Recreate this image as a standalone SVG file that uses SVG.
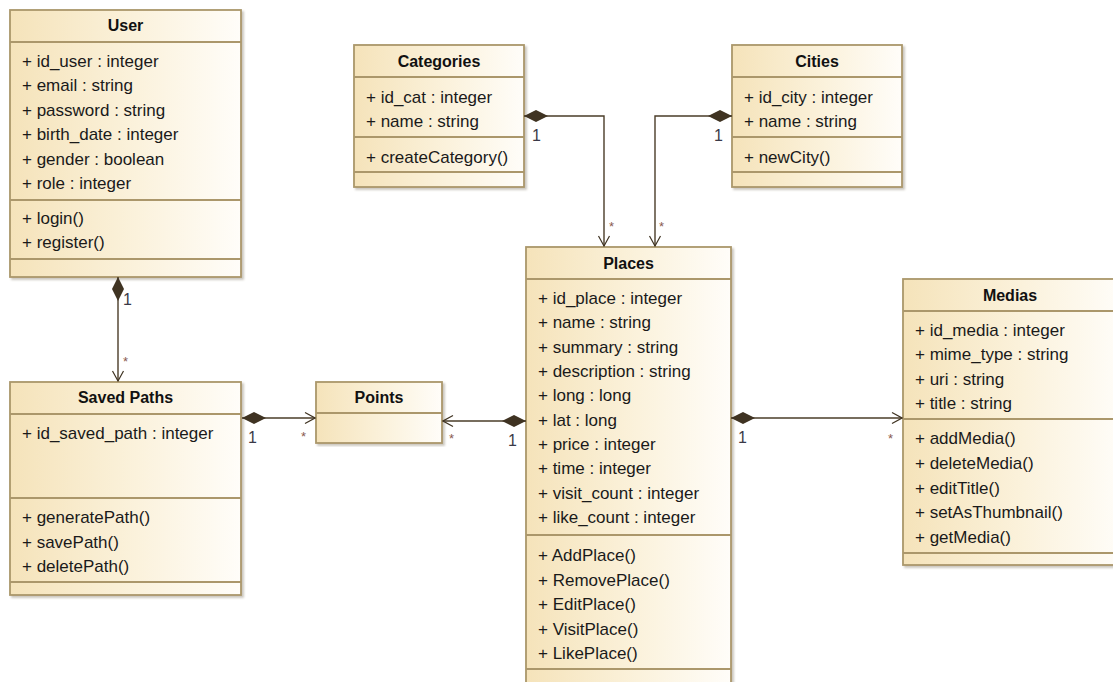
<svg xmlns="http://www.w3.org/2000/svg" width="1113" height="682" viewBox="0 0 1113 682">
<defs>
<linearGradient id="bg" x1="0" y1="0" x2="1" y2="0">
<stop offset="0" stop-color="#f5e3ba"/>
<stop offset="0.55" stop-color="#fbf2dc"/>
<stop offset="1" stop-color="#fffdf9"/>
</linearGradient>
<filter id="sh" x="-5%" y="-5%" width="110%" height="110%">
<feDropShadow dx="2" dy="2" stdDeviation="1" flood-color="#8a8070" flood-opacity="0.45"/>
</filter>
<marker id="dia" viewBox="0 -7 25 14" markerWidth="25" markerHeight="14" refX="0" refY="0" orient="auto" markerUnits="userSpaceOnUse">
<path d="M0,0 L12,-6 L24,0 L12,6 Z" fill="#3f3322"/>
</marker>
<marker id="arr" viewBox="-11 -7 12 14" markerWidth="12" markerHeight="14" refX="0" refY="0" orient="auto" markerUnits="userSpaceOnUse">
<path d="M-10,-5.5 L0,0 L-10,5.5" fill="none" stroke="#3f3322" stroke-width="1.2"/>
</marker>
</defs>
<style>
.box{fill:url(#bg);stroke:#ab976b;stroke-width:1.8;filter:url(#sh)}
.sep{stroke:#ab976b;stroke-width:1.8}
.t{font-family:"Liberation Sans",Arial,sans-serif;font-weight:bold;font-size:16px;fill:#111;text-anchor:middle}
.a{font-family:"Liberation Sans",Arial,sans-serif;font-size:17px;fill:#1a1a1a}
.c{fill:none;stroke:#4a3c28;stroke-width:1.4}
.one{font-family:"Liberation Sans",Arial,sans-serif;font-size:16px;fill:#3a3a48}
.star{font-family:"Liberation Sans",Arial,sans-serif;font-size:13px;fill:#8a5a50}
</style>
<rect width="1113" height="682" fill="#ffffff"/>

<g id="user">
<rect class="box" x="10" y="10" width="231" height="267"/>
<line class="sep" x1="10" y1="42" x2="241" y2="42"/>
<line class="sep" x1="10" y1="200" x2="241" y2="200"/>
<line class="sep" x1="10" y1="259" x2="241" y2="259"/>
<text class="t" x="125.5" y="31">User</text>
<text class="a" x="22" y="67">+ id_user : integer</text>
<text class="a" x="22" y="91.4">+ email : string</text>
<text class="a" x="22" y="115.8">+ password : string</text>
<text class="a" x="22" y="140.2">+ birth_date : integer</text>
<text class="a" x="22" y="164.6">+ gender : boolean</text>
<text class="a" x="22" y="189">+ role : integer</text>
<text class="a" x="22" y="224">+ login()</text>
<text class="a" x="22" y="248">+ register()</text>
</g>

<g id="categories">
<rect class="box" x="354" y="45" width="170" height="142"/>
<line class="sep" x1="354" y1="77" x2="524" y2="77"/>
<line class="sep" x1="354" y1="137" x2="524" y2="137"/>
<line class="sep" x1="354" y1="172" x2="524" y2="172"/>
<text class="t" x="439" y="67">Categories</text>
<text class="a" x="366" y="103">+ id_cat : integer</text>
<text class="a" x="366" y="127">+ name : string</text>
<text class="a" x="366" y="163">+ createCategory()</text>
</g>

<g id="cities">
<rect class="box" x="732" y="45" width="170" height="142"/>
<line class="sep" x1="732" y1="77" x2="902" y2="77"/>
<line class="sep" x1="732" y1="137" x2="902" y2="137"/>
<line class="sep" x1="732" y1="172" x2="902" y2="172"/>
<text class="t" x="817" y="67">Cities</text>
<text class="a" x="744" y="103">+ id_city : integer</text>
<text class="a" x="744" y="127">+ name : string</text>
<text class="a" x="744" y="163">+ newCity()</text>
</g>

<g id="places">
<rect class="box" x="526" y="247" width="205" height="445"/>
<line class="sep" x1="526" y1="279" x2="731" y2="279"/>
<line class="sep" x1="526" y1="535" x2="731" y2="535"/>
<line class="sep" x1="526" y1="669" x2="731" y2="669"/>
<text class="t" x="628.5" y="269">Places</text>
<text class="a" x="538" y="304">+ id_place : integer</text>
<text class="a" x="538" y="328.3">+ name : string</text>
<text class="a" x="538" y="352.7">+ summary : string</text>
<text class="a" x="538" y="377">+ description : string</text>
<text class="a" x="538" y="401.3">+ long : long</text>
<text class="a" x="538" y="425.7">+ lat : long</text>
<text class="a" x="538" y="450">+ price : integer</text>
<text class="a" x="538" y="474.3">+ time : integer</text>
<text class="a" x="538" y="498.7">+ visit_count : integer</text>
<text class="a" x="538" y="523">+ like_count : integer</text>
<text class="a" x="538" y="561">+ AddPlace()</text>
<text class="a" x="538" y="585.5">+ RemovePlace()</text>
<text class="a" x="538" y="610">+ EditPlace()</text>
<text class="a" x="538" y="634.5">+ VisitPlace()</text>
<text class="a" x="538" y="659">+ LikePlace()</text>
</g>

<g id="medias">
<rect class="box" x="903" y="279" width="220" height="286"/>
<line class="sep" x1="903" y1="311" x2="1123" y2="311"/>
<line class="sep" x1="903" y1="419" x2="1123" y2="419"/>
<line class="sep" x1="903" y1="553" x2="1123" y2="553"/>
<text class="t" x="1010" y="301">Medias</text>
<text class="a" x="915" y="336">+ id_media : integer</text>
<text class="a" x="915" y="360.3">+ mime_type : string</text>
<text class="a" x="915" y="384.7">+ uri : string</text>
<text class="a" x="915" y="409">+ title : string</text>
<text class="a" x="915" y="444">+ addMedia()</text>
<text class="a" x="915" y="468.75">+ deleteMedia()</text>
<text class="a" x="915" y="493.5">+ editTitle()</text>
<text class="a" x="915" y="518.25">+ setAsThumbnail()</text>
<text class="a" x="915" y="543">+ getMedia()</text>
</g>

<g id="savedpaths">
<rect class="box" x="10" y="382" width="231" height="213"/>
<line class="sep" x1="10" y1="414" x2="241" y2="414"/>
<line class="sep" x1="10" y1="498" x2="241" y2="498"/>
<line class="sep" x1="10" y1="582" x2="241" y2="582"/>
<text class="t" x="125.5" y="403">Saved Paths</text>
<text class="a" x="22" y="439">+ id_saved_path : integer</text>
<text class="a" x="22" y="523">+ generatePath()</text>
<text class="a" x="22" y="547.5">+ savePath()</text>
<text class="a" x="22" y="572">+ deletePath()</text>
</g>

<g id="points">
<rect class="box" x="316" y="382" width="126" height="61"/>
<line class="sep" x1="316" y1="413" x2="442" y2="413"/>
<text class="t" x="379" y="403">Points</text>
</g>

<g id="connectors">
<path class="c" d="M118,277 L118,381" marker-start="url(#dia)" marker-end="url(#arr)"/>
<text class="one" x="123" y="305">1</text>
<text class="star" x="123" y="366">*</text>

<path class="c" d="M242,418 L315,418" marker-start="url(#dia)" marker-end="url(#arr)"/>
<text class="one" x="248" y="443">1</text>
<text class="star" x="301" y="441">*</text>

<path class="c" d="M526,421 L443,421" marker-start="url(#dia)" marker-end="url(#arr)"/>
<text class="one" x="508" y="446">1</text>
<text class="star" x="449" y="443">*</text>

<path class="c" d="M731,418 L902,418" marker-start="url(#dia)" marker-end="url(#arr)"/>
<text class="one" x="738" y="443">1</text>
<text class="star" x="888" y="443">*</text>

<path class="c" d="M524,116 L604,116 L604,246" marker-start="url(#dia)" marker-end="url(#arr)"/>
<text class="one" x="532" y="141">1</text>
<text class="star" x="609" y="231">*</text>

<path class="c" d="M732,116 L655,116 L655,246" marker-start="url(#dia)" marker-end="url(#arr)"/>
<text class="one" x="714" y="141">1</text>
<text class="star" x="659" y="231">*</text>
</g>
</svg>
